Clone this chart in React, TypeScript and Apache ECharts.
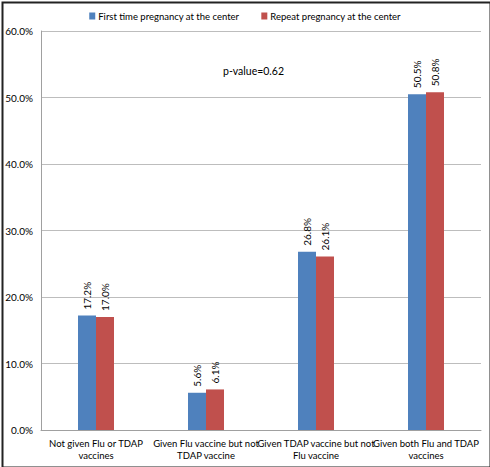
import React, { useEffect, useRef } from "react";
import * as echarts from "echarts";

const categories = [
  "Not given Flu or TDAP\nvaccines",
  "Given Flu vaccine but not\nTDAP vaccine",
  "Given TDAP vaccine but not\nFlu vaccine",
  "Given both Flu and TDAP\nvaccines",
];
const firstTime = [17.2, 5.6, 26.8, 50.5];
const repeat = [17.0, 6.1, 26.1, 50.8];
const seriesNames = ["First time pregnancy at the center", "Repeat pregnancy at the center"];
const annotation = "p-value=0.62";

const FONT = "Lato, 'Liberation Sans', sans-serif";

export default function App() {
  const ref = useRef<HTMLDivElement>(null);
  useEffect(() => {
    document.body.style.margin = "0";
    const chart = echarts.init(ref.current!, null, { renderer: "svg" });
    const label = {
      show: true,
      position: "top" as const,
      rotate: 90,
      align: "left" as const,
      verticalAlign: "middle" as const,
      distance: 6,
      fontFamily: FONT,
      fontSize: 10,
      color: "#000",
      formatter: (p: any) => p.value.toFixed(1) + "%",
    };
    chart.setOption({
      animation: false,
      backgroundColor: "#fff",
      grid: { left: 41, right: 9, top: 31, bottom: 37 },
      legend: {
        top: 6,
        left: "center",
        itemWidth: 6,
        itemHeight: 7,
        itemGap: 22,
        icon: "rect",
        textStyle: { fontFamily: FONT, fontSize: 9.5, color: "#000", padding: [0, 0, 0, -2] },
        data: seriesNames,
      },
      xAxis: {
        type: "category",
        data: categories,
        axisLine: { lineStyle: { color: "#a0a0a0" } },
        axisTick: { show: false },
        axisLabel: {
          interval: 0,
          fontFamily: FONT,
          fontSize: 9.5,
          color: "#000",
          lineHeight: 12,
          margin: 7,
        },
      },
      yAxis: {
        type: "value",
        min: 0,
        max: 60,
        interval: 10,
        axisLine: { show: true, lineStyle: { color: "#a0a0a0" } },
        splitLine: { lineStyle: { color: "#bdbdbd" } },
        axisLabel: {
          fontFamily: FONT,
          fontSize: 10,
          color: "#000",
          margin: 8,
          formatter: (v: number) => v.toFixed(1) + "%",
        },
      },
      series: [
        {
          name: seriesNames[0],
          type: "bar",
          data: firstTime,
          barWidth: 18,
          barGap: "0%",
          itemStyle: { color: "#4F81BD" },
          label,
        },
        {
          name: seriesNames[1],
          type: "bar",
          data: repeat,
          barWidth: 18,
          barGap: "0%",
          itemStyle: { color: "#C0504D" },
          label,
        },
      ],
      graphic: [
        {
          type: "text",
          left: 223,
          top: 65,
          style: { text: annotation, fontFamily: FONT, fontSize: 10.5, fill: "#000" },
        },
        {
          type: "rect",
          left: 0,
          top: 0,
          shape: { x: 0, y: 0, width: 488, height: 465 },
          style: { fill: "none", stroke: "#222", lineWidth: 2 },
          silent: true,
        },
      ],
    });
    return () => chart.dispose();
  }, []);
  return <div ref={ref} style={{ width: 490, height: 467 }} />;
}
